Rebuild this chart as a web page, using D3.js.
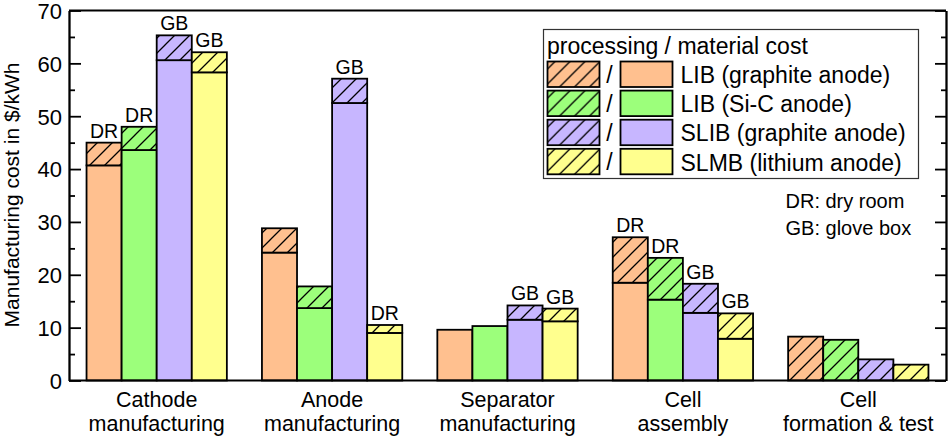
<!DOCTYPE html>
<html>
<head>
<meta charset="utf-8">
<script src="https://cdn.jsdelivr.net/npm/d3@7/dist/d3.min.js"></script>
<style>
    html, body { margin: 0; padding: 0; background: #fff; }
    svg { display: block; font-family: "Liberation Sans", Arial, Helvetica, sans-serif; }
</style>
</head>
<body>
<div id="chart"></div>
<script>
// categories (two-line labels)
const categories = [
    ['Cathode', 'manufacturing'],
    ['Anode', 'manufacturing'],
    ['Separator', 'manufacturing'],
    ['Cell', 'assembly'],
    ['Cell', 'formation & test']
];
const seriesNames = ['LIB (graphite anode)', 'LIB (Si-C anode)', 'SLIB (graphite anode)', 'SLMB (lithium anode)'];
const seriesColors = ['#ffc08f', '#9cff7b', '#c7b6ff', '#ffff8e'];

// material cost per series, one value per category ($/kWh)
const materialLIB = [40.7, 24.2, 9.6, 18.5, 0];
const materialSiC = [43.6, 13.7, 10.3, 15.3, 0];
const materialSLIB = [60.6, 52.5, 11.5, 12.8, 0];
const materialSLMB = [58.3, 9.0, 11.2, 7.9, 0];

// processing cost per series
const processingLIB = [4.3, 4.6, 0, 8.6, 8.3];
const processingSiC = [4.4, 4.1, 0, 7.9, 7.7];
const processingSLIB = [4.7, 4.6, 2.7, 5.5, 4.0];
const processingSLMB = [3.8, 1.5, 2.4, 4.8, 3.0];

// environment notes above bars
const noteLIB = ['DR', '', '', 'DR', ''];
const noteSiC = ['DR', '', '', 'DR', ''];
const noteSLIB = ['GB', 'GB', 'GB', 'GB', ''];
const noteSLMB = ['GB', 'DR', 'GB', 'GB', ''];

const yTicks = [0, 10, 20, 30, 40, 50, 60, 70];
const yMinorTicks = [5, 15, 25, 35, 45, 55, 65];

const material = [materialLIB, materialSiC, materialSLIB, materialSLMB];
const processing = [processingLIB, processingSiC, processingSLIB, processingSLMB];
const notes = [noteLIB, noteSiC, noteSLIB, noteSLMB];

const width = 952, height = 442;
const plot = { left: 69, right: 946, top: 10.5, bottom: 380.5 };

const svg = d3.select('#chart').append('svg')
    .attr('width', width)
    .attr('height', height);

// hatch patterns, one per colour
const defs = svg.append('defs');
seriesColors.forEach((c, i) => {
    let p = defs.append('pattern')
        .attr('id', 'hatch' + i)
        .attr('patternUnits', 'userSpaceOnUse')
        .attr('width', 15)
        .attr('height', 15);
    p.append('rect').attr('width', 15).attr('height', 15).attr('fill', c);
    p.append('path')
        .attr('d', 'M-2,2 L2,-2 M0,15 L15,0 M13,17 L17,13')
        .attr('stroke', '#000')
        .attr('stroke-width', 1.3);
});

const x0 = d3.scaleBand()
    .domain(d3.range(categories.length))
    .range([plot.left, plot.right])
    .paddingInner(0.2)
    .paddingOuter(0.1);
const x1 = d3.scaleBand()
    .domain(d3.range(seriesNames.length))
    .range([0, x0.bandwidth()])
    .padding(0);
const y = d3.scaleLinear().domain([0, 70]).range([plot.bottom, plot.top]);

// build rect data
let rects = [];
let labels = [];
material.forEach((arr, s) => {
    arr.forEach((m, c) => {
        let p = processing[s][c];
        let xpos = x0(c) + x1(s);
        if (m > 0) rects.push({ x: xpos, y0: 0, y1: m, fill: seriesColors[s] });
        if (p > 0) rects.push({ x: xpos, y0: m, y1: m + p, fill: `url(#hatch${s})` });
        if (notes[s][c]) labels.push({ x: xpos + x1.bandwidth() / 2, v: m + p, text: notes[s][c] });
    });
});

svg.append('g').selectAll('rect')
    .data(rects)
    .enter().append('rect')
    .attr('x', d => d.x)
    .attr('y', d => y(d.y1))
    .attr('width', x1.bandwidth())
    .attr('height', d => y(d.y0) - y(d.y1))
    .attr('fill', d => d.fill)
    .attr('stroke', '#000')
    .attr('stroke-width', 1.8);

svg.append('g').selectAll('text')
    .data(labels)
    .enter().append('text')
    .attr('x', d => d.x)
    .attr('y', d => y(d.v) - 5)
    .attr('text-anchor', 'middle')
    .attr('font-size', 19.5)
    .text(d => d.text);

// axes
const axisLeft = svg.append('g')
    .attr('transform', `translate(${plot.left},0)`)
    .call(d3.axisLeft(y).tickValues(yTicks).tickSize(-12).tickPadding(7).tickSizeOuter(0));
axisLeft.selectAll('text')
    .attr('font-size', 22)
    .attr('fill', '#000')
    .attr('dy', '0.36em');
svg.append('g')
    .attr('transform', `translate(${plot.left},0)`)
    .call(d3.axisLeft(y).tickValues(yMinorTicks).tickSize(-6).tickFormat('').tickSizeOuter(0));
svg.append('g')
    .attr('transform', `translate(${plot.right},0)`)
    .call(d3.axisRight(y).tickValues(yTicks).tickSize(-11).tickFormat('').tickSizeOuter(0));
svg.append('g')
    .attr('transform', `translate(${plot.right},0)`)
    .call(d3.axisRight(y).tickValues(yMinorTicks).tickSize(-5).tickFormat('').tickSizeOuter(0));

svg.selectAll('.domain, .tick line').attr('stroke', '#000').attr('stroke-width', 1.8);
svg.selectAll('.tick text').attr('font-family', null);

// top and bottom frame lines
svg.append('line')
    .attr('x1', plot.left).attr('x2', plot.right)
    .attr('y1', plot.top).attr('y2', plot.top)
    .attr('stroke', '#000').attr('stroke-width', 1.8);
svg.append('line')
    .attr('x1', plot.left).attr('x2', plot.right)
    .attr('y1', plot.bottom).attr('y2', plot.bottom)
    .attr('stroke', '#000').attr('stroke-width', 1.8);

// category labels
let cat = svg.append('g').selectAll('text')
    .data(categories)
    .enter().append('text')
    .attr('text-anchor', 'middle')
    .attr('font-size', 21.5)
    .attr('x', (d, i) => x0(i) + x0.bandwidth() / 2)
    .attr('y', 407);
cat.append('tspan').text(d => d[0]);
cat.append('tspan')
    .attr('x', (d, i) => x0(i) + x0.bandwidth() / 2)
    .attr('dy', 23.5)
    .text(d => d[1]);

// y title
svg.append('text')
    .attr('transform', 'translate(19,195) rotate(-90)')
    .attr('text-anchor', 'middle')
    .attr('font-size', 21)
    .text('Manufacturing cost in $/kWh');

// legend
const legend = svg.append('g');
legend.append('rect')
    .attr('x', 543.5).attr('y', 29.5)
    .attr('width', 375).attr('height', 149)
    .attr('fill', '#fff')
    .attr('stroke', '#333')
    .attr('stroke-width', 1.2);
legend.append('text')
    .attr('x', 547).attr('y', 54)
    .attr('font-size', 23)
    .text('processing / material cost');
let rows = legend.selectAll('.row')
    .data(seriesNames)
    .enter().append('g')
    .attr('class', 'row')
    .attr('transform', (d, i) => `translate(0,${61.5 + i * 29.1})`);
rows.append('rect')
    .attr('x', 547.5).attr('width', 52).attr('height', 25.5)
    .attr('fill', (d, i) => `url(#hatch${i})`)
    .attr('stroke', '#000').attr('stroke-width', 1.8);
rows.append('text')
    .attr('x', 609.5).attr('y', 21.5)
    .attr('text-anchor', 'middle')
    .attr('font-size', 23)
    .text('/');
rows.append('rect')
    .attr('x', 620.5).attr('width', 52).attr('height', 25.5)
    .attr('fill', (d, i) => seriesColors[i])
    .attr('stroke', '#000').attr('stroke-width', 1.8);
rows.append('text')
    .attr('x', 680.5).attr('y', 21.8)
    .attr('font-size', 23)
    .text(d => d);

svg.append('text').attr('x', 785.5).attr('y', 208).attr('font-size', 20).text('DR: dry room');
svg.append('text').attr('x', 785.5).attr('y', 235).attr('font-size', 20).text('GB: glove box');
</script>
</body>
</html>
